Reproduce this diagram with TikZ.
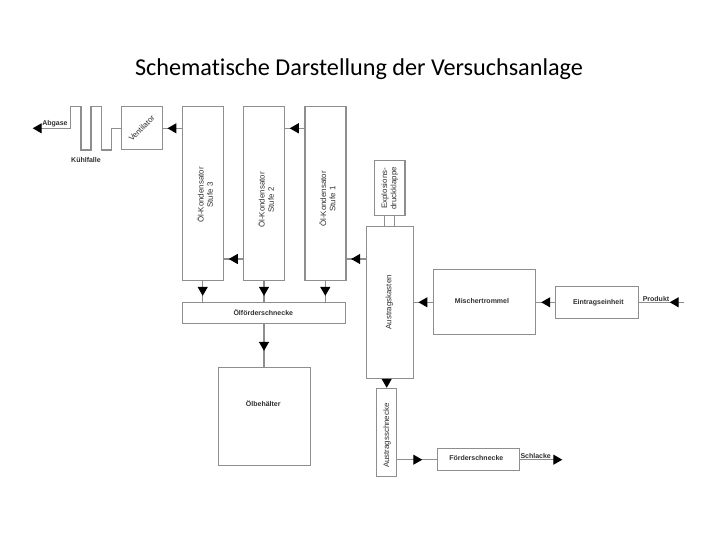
\documentclass[tikz,border=0pt]{standalone}
\usepackage{fontspec}
\setmainfont{Liberation Sans}
\newfontfamily\titlefont[Ligatures=NoCommon]{Carlito}
\usetikzlibrary{arrows.meta,decorations.markings}
\definecolor{ln}{HTML}{8E8E8E}
\definecolor{tx}{HTML}{303030}
\tikzset{
  x=1pt,y=-1pt,
  boxnode/.style={draw=ln,line width=1.1pt,fill=white,inner sep=0pt},
  lab/.style={inner sep=0pt,text=tx,font=\fontsize{7}{8}\bfseries\selectfont,align=center},
  rlab/.style={inner sep=0pt,text=tx,font=\fontsize{7.9}{9.4}\selectfont,align=center},
  wire/.style={draw=ln,line width=1.1pt},
  tip/.tip={Triangle[length=9pt,width=10pt,black]},
  flow/.style={wire,postaction={decorate},decoration={markings,mark=at position #1 with {\arrow{tip}}}},
}
\begin{document}
\begin{tikzpicture}
\useasboundingbox (0,0) rectangle (720,540);
\node[inner sep=0pt,text=black,font=\titlefont\fontsize{24.2}{28}\selectfont] (title) at (359,69.5) {Schematische Darstellung der Versuchsanlage};
% boxes
\node[boxnode,minimum width=40.8pt,minimum height=43.3pt] (vent) at (141.9,128.3) {};
\node[boxnode,minimum width=40.6pt,minimum height=173.6pt] (k3) at (203,193.5) {};
\node[boxnode,minimum width=41.4pt,minimum height=173.6pt] (k2) at (264,193.5) {};
\node[boxnode,minimum width=41pt,minimum height=173.6pt] (k1) at (325.5,193.5) {};
\node[boxnode,minimum width=30.7pt,minimum height=54.6pt] (expl) at (389.6,188) {};
\node[boxnode,minimum width=47pt,minimum height=151.7pt] (kasten) at (389.8,302.2) {};
\node[boxnode,minimum width=163.4pt,minimum height=21.4pt] (oelf) at (264,313) {};
\node[boxnode,minimum width=92pt,minimum height=97.7pt] (oelb) at (264.3,416.2) {};
\node[boxnode,minimum width=20pt,minimum height=87.7pt] (aschn) at (386.7,432.2) {};
\node[boxnode,minimum width=82pt,minimum height=21.6pt] (foerd) at (478.3,459.5) {};
\node[boxnode,minimum width=102pt,minimum height=64.6pt] (misch) at (484.7,302) {};
\node[boxnode,minimum width=82.3pt,minimum height=32.3pt] (eintr) at (596.9,302.2) {};
% free ends and levels
\coordinate (yA) at (0,128.3);
\coordinate (yB) at (0,259);
\coordinate (yC) at (0,302.3);
\coordinate (yD) at (0,459.7);
\coordinate (xA) at (202.7,0);
\coordinate (xB) at (264,0);
\coordinate (xC) at (325.3,0);
\coordinate (abg) at (32.7,128.3);
\coordinate (prod) at (684,302.3);
\coordinate (schl) at (562.3,459.7);
\coordinate (ex1) at (384.3,0);
\coordinate (ex2) at (394.3,0);
% connectors
\draw[flow=14.7pt] (k3.west |- yA) -- (vent.east |- yA);
\draw[flow=14.7pt] (k1.west |- yA) -- (k2.east |- yA);
\draw[flow=14pt] (k2.west |- yB) -- (k3.east |- yB);
\draw[flow=14.6pt] (kasten.west |- yB) -- (k1.east |- yB);
\draw[flow=14.7pt] (misch.west |- yC) -- (kasten.east |- yC);
\draw[flow=14pt] (eintr.west |- yC) -- (misch.east |- yC);
\draw[flow=14.3pt] (prod) -- (eintr.east |- prod);
\draw[flow=15pt] (xA |- k3.south) -- (xA |- oelf.north);
\draw[flow=15pt] (xB |- k2.south) -- (xB |- oelf.north);
\draw[flow=15pt] (xC |- k1.south) -- (xC |- oelf.north);
\draw[flow=26.6pt] (xB |- oelf.south) -- (xB |- oelb.north);
\draw[wire,-{tip}] (aschn.center |- kasten.south) -- (aschn.north);
\draw[flow=25pt] (aschn.east |- yD) -- (foerd.west |- yD);
\draw[wire,-{tip}] (foerd.east |- schl) -- (schl);
\draw[wire] (ex1 |- expl.south) -- (ex1 |- kasten.north);
\draw[wire] (ex2 |- expl.south) -- (ex2 |- kasten.north);
% Kuehlfalle line
\draw[wire,-{tip}] (vent.west |- yA) -- (111.7,128.3) -- (111.7,150) -- (101.3,150) -- (101.3,106.7) -- (91,106.7) -- (91,150) -- (81,150) -- (81,106.7) -- (70.7,106.7) -- (70.7,128.3) -- (abg);
% labels
\node[lab] (tabg) at (55,123.3) {Abgase};
\node[lab] (tkuehl) at (86,159.7) {Kühlfalle};
\node[rlab,rotate=45] (tvent) at (141.7,128.3) {Ventilator};
\node[rlab,rotate=90] (tk3) at (205,195) {Öl-Kondensator\\Stufe 3};
\node[rlab,rotate=90] (tk2) at (266,200) {Öl-Kondensator\\Stufe 2};
\node[rlab,rotate=90] (tk1) at (327.5,199) {Öl-Kondensator\\Stufe 1};
\node[rlab,rotate=90] (texpl) at (389.7,188.3) {Explosions-\\druckklappe};
\node[rlab,rotate=90] (tkasten) at (389.3,302.3) {Austragskasten};
\node[lab] (toelf) at (263.3,313) {Ölförderschnecke};
\node[lab] (toelb) at (263.3,403.5) {Ölbehälter};
\node[rlab,rotate=90] (taschn) at (387,435.7) {Austragsschnecke};
\node[lab] (tfoerd) at (476.3,458) {Förderschnecke};
\node[lab] (tmisch) at (482,301) {Mischertrommel};
\node[lab] (teintr) at (598.3,302.3) {Eintragseinheit};
\node[lab] (tprod) at (656,298.7) {Produkt};
\node[lab] (tschl) at (535.7,456) {Schlacke};
\end{tikzpicture}
\end{document}
